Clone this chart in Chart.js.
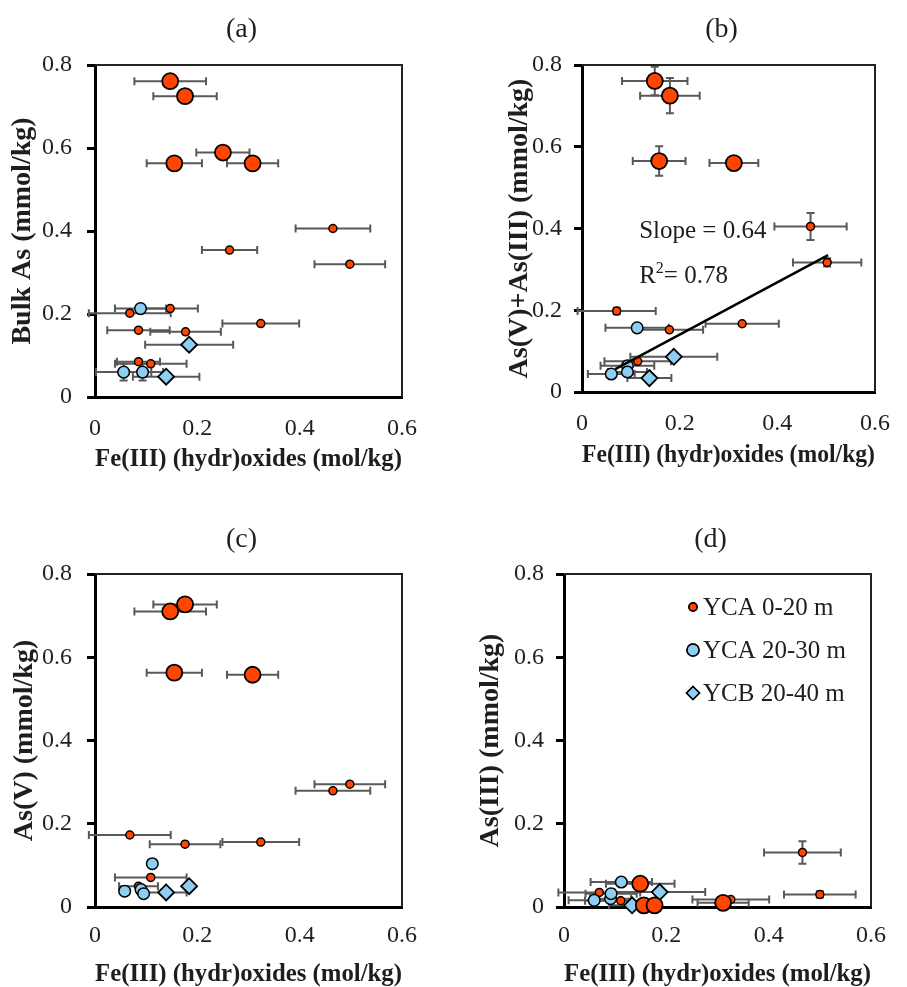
<!DOCTYPE html>
<html>
<head>
<meta charset="utf-8">
<script src="https://cdn.jsdelivr.net/npm/chart.js@4.4.0/dist/chart.umd.min.js"></script>
<style>
  html, body { margin: 0; padding: 0; background: #fff; overflow: hidden; }
  #wrap { position: relative; width: 907px; height: 987px; overflow: hidden; }
  #wrap canvas { position: absolute; }
</style>
</head>
<body>
<div id="wrap">
  <canvas id="panelA" width="453" height="493" style="left:0;top:0"></canvas>
  <canvas id="panelB" width="454" height="493" style="left:453px;top:0"></canvas>
  <canvas id="panelC" width="453" height="510" style="left:0;top:493px"></canvas>
  <canvas id="panelD" width="454" height="510" style="left:453px;top:493px"></canvas>
</div>
<script>
// each row: [Fe(III) mol/kg, As mmol/kg, Fe error, As error]

// (a) bulk As
const bulkLarge = [[0.147, 0.761, 0.070, 0], [0.176, 0.725, 0.062, 0], [0.250, 0.589, 0.052, 0], [0.155, 0.563, 0.054, 0], [0.308, 0.563, 0.050, 0]];
const bulkYca020 = [[0.465, 0.406, 0.073, 0], [0.263, 0.354, 0.054, 0], [0.498, 0.320, 0.069, 0], [0.147, 0.213, 0.054, 0], [0.068, 0.202, 0.080, 0],
                    [0.324, 0.177, 0.075, 0], [0.085, 0.161, 0.061, 0], [0.177, 0.157, 0.069, 0], [0.085, 0.085, 0.042, 0], [0.109, 0.080, 0.070, 0]];
const bulkYca2030 = [[0.089, 0.213, 0.050, 0], [0.056, 0.060, 0.054, 0.02], [0.093, 0.060, 0.040, 0.02]];
const bulkYcb2040 = [[0.184, 0.126, 0.086, 0], [0.139, 0.049, 0.065, 0]];

// (b) As(V)+As(III)
const sumLarge = [[0.149, 0.761, 0.067, 0.035], [0.180, 0.725, 0.061, 0.043], [0.158, 0.565, 0.054, 0.036], [0.311, 0.560, 0.050, 0.012]];
const sumYca020 = [[0.468, 0.405, 0.074, 0.033], [0.502, 0.317, 0.070, 0.010], [0.071, 0.198, 0.080, 0.008], [0.179, 0.152, 0.069, 0],
                   [0.328, 0.167, 0.075, 0], [0.114, 0.075, 0.068, 0]];
const sumYca2030 = [[0.113, 0.157, 0.065, 0], [0.093, 0.064, 0.055, 0], [0.060, 0.044, 0.048, 0], [0.093, 0.049, 0.040, 0]];
const sumYcb2040 = [[0.188, 0.086, 0.089, 0], [0.138, 0.034, 0.045, 0]];
const fitSlope = 0.64;
const fitIntercept = 0.0125;
const fitR2 = 0.78;
const fitFe = [0.068, 0.504];

// (c) As(V)
const as5Large = [[0.176, 0.727, 0.062, 0], [0.147, 0.710, 0.070, 0], [0.155, 0.563, 0.054, 0], [0.308, 0.558, 0.050, 0]];
const as5Yca020 = [[0.498, 0.295, 0.069, 0], [0.465, 0.279, 0.073, 0], [0.068, 0.173, 0.080, 0], [0.176, 0.151, 0.069, 0],
                   [0.324, 0.156, 0.075, 0], [0.109, 0.071, 0.070, 0], [0.085, 0.050, 0.038, 0]];
const as5Yca2030 = [[0.112, 0.104, 0, 0], [0.058, 0.038, 0, 0], [0.090, 0.042, 0, 0], [0.095, 0.032, 0, 0]];
const as5Ycb2040 = [[0.184, 0.050, 0, 0], [0.139, 0.035, 0.040, 0]];

// (d) As(III)
const as3Large = [[0.149, 0.056, 0.067, 0], [0.156, 0.004, 0, 0], [0.177, 0.004, 0, 0], [0.311, 0.010, 0.050, 0]];
const as3Yca020 = [[0.466, 0.131, 0.075, 0.027], [0.500, 0.030, 0.070, 0.008], [0.069, 0.035, 0.080, 0], [0.111, 0.015, 0.070, 0], [0.326, 0.018, 0.075, 0]];
const as3Yca2030 = [[0.112, 0.060, 0.060, 0], [0.059, 0.016, 0.050, 0], [0.091, 0.020, 0.040, 0], [0.092, 0.032, 0.050, 0]];
const as3Ycb2040 = [[0.187, 0.036, 0.089, 0], [0.133, 0.004, 0.045, 0]];

const feTicks = [0, 0.2, 0.4, 0.6];
const asTicks = [0, 0.2, 0.4, 0.6, 0.8];
const legendNames = ['YCA 0-20 m', 'YCA 20-30 m', 'YCB 20-40 m'];

const SERIF = "'Liberation Serif', 'Times New Roman', serif";
const INK = '#1e1e1e';
const ORANGE = '#FF4500';
const SKY = '#8DCFF3';

const markStyles = {
  large:   { pointStyle: 'circle',  pointRadius: 8,   pointBorderWidth: 1.8, pointBackgroundColor: ORANGE, order: 0 },
  yca020:  { pointStyle: 'circle',  pointRadius: 4,   pointBorderWidth: 1.5, pointBackgroundColor: ORANGE, order: 4 },
  yca2030: { pointStyle: 'circle',  pointRadius: 5.8, pointBorderWidth: 1.5, pointBackgroundColor: SKY, order: 3 },
  ycb2040: { pointStyle: 'rectRot', pointRadius: 8,   pointBorderWidth: 1.8, pointBackgroundColor: SKY, order: 2 }
};

function series(rows, key, label) {
  return Object.assign({
    type: 'scatter',
    label: label || '',
    data: rows.map(r => ({ x: r[0], y: r[1], xErr: r[2], yErr: r[3] })),
    pointBorderColor: '#000',
    pointHoverRadius: markStyles[key].pointRadius,
    clip: false
  }, markStyles[key]);
}

// horizontal and vertical error bars, under the markers
const errorBars = {
  id: 'errorBars',
  beforeDatasetsDraw(chart) {
    const { ctx, scales: { x, y } } = chart;
    const cap = 4;
    ctx.save();
    ctx.strokeStyle = '#595959';
    ctx.lineWidth = 2;
    chart.data.datasets.forEach(ds => {
      if (ds.type !== 'scatter') return;
      ds.data.forEach(p => {
        const px = x.getPixelForValue(p.x);
        const py = y.getPixelForValue(p.y);
        ctx.beginPath();
        if (p.xErr) {
          const x0 = x.getPixelForValue(p.x - p.xErr);
          const x1 = x.getPixelForValue(p.x + p.xErr);
          ctx.moveTo(x0, py); ctx.lineTo(x1, py);
          ctx.moveTo(x0, py - cap); ctx.lineTo(x0, py + cap);
          ctx.moveTo(x1, py - cap); ctx.lineTo(x1, py + cap);
        }
        if (p.yErr) {
          const y0 = y.getPixelForValue(p.y - p.yErr);
          const y1 = y.getPixelForValue(p.y + p.yErr);
          ctx.moveTo(px, y0); ctx.lineTo(px, y1);
          ctx.moveTo(px - cap, y0); ctx.lineTo(px + cap, y0);
          ctx.moveTo(px - cap, y1); ctx.lineTo(px + cap, y1);
        }
        ctx.stroke();
      });
    });
    ctx.restore();
  }
};

// thin top/right frame plus the panel letter
const frame = {
  id: 'frame',
  beforeDatasetsDraw(chart, args, opts) {
    const { ctx, chartArea: a } = chart;
    ctx.save();
    ctx.strokeStyle = '#222';
    ctx.lineWidth = 2;
    ctx.beginPath();
    ctx.moveTo(a.left, a.top); ctx.lineTo(a.right, a.top); ctx.lineTo(a.right, a.bottom);
    ctx.stroke();
    ctx.fillStyle = INK;
    ctx.font = '28px ' + SERIF;
    ctx.textAlign = 'center';
    ctx.textBaseline = 'middle';
    ctx.fillText(opts.letter, (a.left + a.right) / 2 - 7, a.top - opts.letterGap);
    ctx.restore();
  }
};

// legend drawn inside the plot area of panel (d)
const innerLegend = {
  id: 'innerLegend',
  afterDatasetsDraw(chart, args, opts) {
    if (!opts.show) return;
    const { ctx, chartArea: a } = chart;
    const marks = [
      { key: 'yca020', r: 4 }, { key: 'yca2030', r: 6 }, { key: 'ycb2040', r: 6.5 }
    ];
    ctx.save();
    marks.forEach((m, i) => {
      const st = markStyles[m.key];
      const mx = a.left + opts.dx;
      const my = a.top + opts.dy + i * opts.rowGap;
      Chart.helpers.drawPoint(ctx, {
        pointStyle: st.pointStyle, radius: m.r, rotation: 0, borderWidth: 1.5
      }, mx, my);
      ctx.fillStyle = st.pointBackgroundColor;
      ctx.strokeStyle = '#000';
      ctx.lineWidth = 1.5;
      ctx.beginPath();
      if (st.pointStyle === 'circle') {
        ctx.arc(mx, my, m.r, 0, Math.PI * 2);
      } else {
        ctx.moveTo(mx - m.r, my); ctx.lineTo(mx, my - m.r); ctx.lineTo(mx + m.r, my); ctx.lineTo(mx, my + m.r); ctx.closePath();
      }
      ctx.fill(); ctx.stroke();
      ctx.fillStyle = INK;
      ctx.font = '25px ' + SERIF;
      ctx.textAlign = 'left';
      ctx.textBaseline = 'middle';
      ctx.fillText(legendNames[i], mx + 10, my + 1);
    });
    ctx.restore();
  }
};

// slope and R² text next to the fitted line
const fitNote = {
  id: 'fitNote',
  afterDatasetsDraw(chart, args, opts) {
    if (!opts.show) return;
    const { ctx, scales: { x, y } } = chart;
    const px = x.getPixelForValue(opts.at[0]);
    ctx.save();
    ctx.fillStyle = INK;
    ctx.textAlign = 'left';
    ctx.textBaseline = 'middle';
    ctx.font = '25px ' + SERIF;
    ctx.fillText('Slope = ' + fitSlope.toFixed(2), px, y.getPixelForValue(opts.at[1]));
    const ry = y.getPixelForValue(opts.at[2]);
    ctx.fillText('R', px, ry);
    let cx = px + ctx.measureText('R').width;
    ctx.font = '16px ' + SERIF;
    ctx.fillText('2', cx, ry - 8);
    cx += ctx.measureText('2').width;
    ctx.font = '25px ' + SERIF;
    ctx.fillText('= ' + fitR2.toFixed(2), cx, ry);
    ctx.restore();
  }
};

function tickText(v) {
  return v === 0 ? '0' : v.toFixed(1);
}

function makePanel(id, sets, yTitle, box) {
  const datasets = [
    series(sets[0], 'yca020', legendNames[0]),
    series(sets[1], 'yca2030', legendNames[1]),
    series(sets[2], 'ycb2040', legendNames[2]),
    series(sets[3], 'large')
  ];
  if (box.fit) {
    datasets.push({
      type: 'line',
      label: 'fit',
      data: fitFe.map(fe => ({ x: fe, y: fitSlope * fe + fitIntercept })),
      borderColor: '#000',
      borderWidth: 2.5,
      pointRadius: 0,
      fill: false,
      order: 1
    });
  }
  return new Chart(document.getElementById(id), {
    data: { datasets: datasets },
    plugins: [errorBars, frame, innerLegend, fitNote],
    options: {
      responsive: false,
      animation: false,
      events: [],
      layout: { padding: { top: box.top, right: box.right, left: 0, bottom: 0 } },
      plugins: {
        legend: { display: false },
        tooltip: { enabled: false },
        frame: { letter: box.letter, letterGap: box.letterGap },
        innerLegend: { show: !!box.legend, dx: 129, dy: 33, rowGap: 43 },
        fitNote: { show: !!box.fit, at: [0.117, 0.392, 0.282] }
      },
      scales: {
        x: {
          type: 'linear',
          min: 0, max: 0.6,
          afterBuildTicks: s => { s.ticks = feTicks.map(v => ({ value: v })); },
          afterFit: s => { s.height = box.xHeight; },
          ticks: {
            color: INK,
            font: { family: SERIF, size: 24 },
            padding: box.xTickPad,
            callback: tickText
          },
          grid: { display: false, drawTicks: false },
          border: { display: true, color: '#000', width: 3 },
          title: {
            display: true,
            text: 'Fe(III) (hydr)oxides (mol/kg)',
            color: INK,
            font: { family: SERIF, size: 25, weight: 'bold' },
            padding: { top: 0, bottom: box.xTitlePad }
          }
        },
        y: {
          type: 'linear',
          min: 0, max: 0.8,
          afterBuildTicks: s => { s.ticks = asTicks.map(v => ({ value: v })); },
          afterFit: s => { s.width = box.left; },
          ticks: {
            color: INK,
            font: { family: SERIF, size: 24 },
            padding: box.yTickPad,
            callback: tickText
          },
          grid: { display: true, drawOnChartArea: false, drawTicks: true, tickLength: 8, tickWidth: 3, tickColor: '#000' },
          border: { display: true, color: '#000', width: 3 },
          title: {
            display: true,
            text: yTitle,
            color: INK,
            font: { family: SERIF, size: 28, weight: 'bold' },
            padding: { top: box.yTitlePad, bottom: 0 }
          }
        }
      }
    }
  });
}

makePanel('panelA', [bulkYca020, bulkYca2030, bulkYcb2040, bulkLarge], 'Bulk As (mmol/kg)',
  { letter: '(a)', letterGap: 35, top: 65, right: 51, left: 95, xHeight: 96, xTickPad: 17, xTitlePad: 18, yTickPad: 15, yTitlePad: 6 });
makePanel('panelB', [sumYca020, sumYca2030, sumYcb2040, sumLarge], 'As(V)+As(III) (mmol/kg)',
  { letter: '(b)', letterGap: 35, top: 65, right: 18, left: 129, xHeight: 101, xTickPad: 17, xTitlePad: 22, yTickPad: 12, yTitlePad: 50, fit: true });
makePanel('panelC', [as5Yca020, as5Yca2030, as5Ycb2040, as5Large], 'As(V) (mmol/kg)',
  { letter: '(c)', letterGap: 34, top: 81, right: 51, left: 95, xHeight: 96, xTickPad: 14, xTitlePad: 13, yTickPad: 15, yTitlePad: 8 });
makePanel('panelD', [as3Yca020, as3Yca2030, as3Ycb2040, as3Large], 'As(III) (mmol/kg)',
  { letter: '(d)', letterGap: 34, top: 81, right: 36, left: 111, xHeight: 96, xTickPad: 14, xTitlePad: 13, yTickPad: 12, yTitlePad: 21, legend: true });
</script>
</body>
</html>
